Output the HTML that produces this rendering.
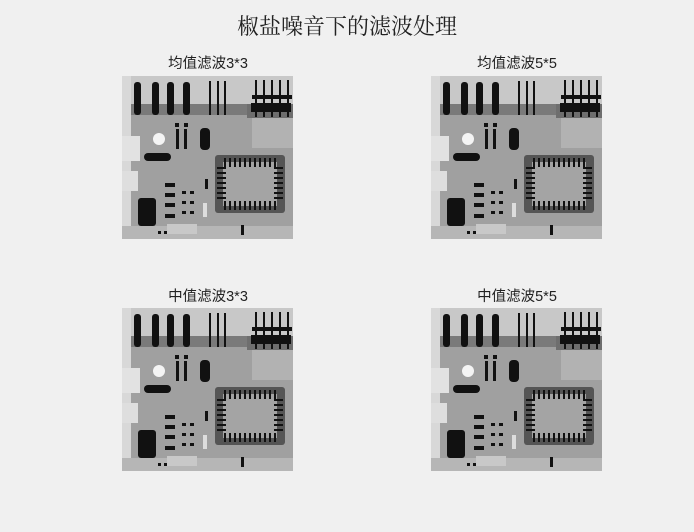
<!DOCTYPE html>
<html><head><meta charset="utf-8"><style>
html,body{margin:0;padding:0;background:#f0f0f0;}
#c{position:relative;width:694px;height:532px;overflow:hidden;background:#f0f0f0;}
.t{position:absolute;white-space:nowrap;color:#222;transform:translateX(-50%);}
.title{font-family:"Liberation Serif","Noto Serif CJK SC",serif;font-size:22px;top:14px;left:347px;line-height:26px;}
.sub{font-family:"Liberation Sans","Noto Sans CJK SC",sans-serif;font-size:14.5px;line-height:18px;}
svg{position:absolute;left:0;top:0;}
</style></head><body><div id="c">
<svg width="694" height="532" viewBox="0 0 694 532">
<defs>
<g id="pcb">
<rect x="0" y="0" width="171" height="163" fill="#a0a0a0"/>
<rect x="0" y="0" width="171" height="28" fill="#c8c8c8"/>
<rect x="0" y="28" width="125" height="11" fill="#7a7a7a"/>
<rect x="125" y="28" width="46" height="14" fill="#6e6e6e"/>
<rect x="0" y="0" width="9" height="163" fill="#d8d8d8"/>
<rect x="0" y="150" width="171" height="13" fill="#b6b6b6"/>
<rect x="130" y="42" width="41" height="30" fill="#b2b2b2"/>
<rect x="0" y="60" width="18" height="25" fill="#e2e2e2"/>
<rect x="0" y="95" width="16" height="20" fill="#dedede"/>
<g fill="#111">
<rect x="12" y="6" width="7" height="33" rx="3"/>
<rect x="30" y="6" width="7" height="33" rx="3"/>
<rect x="45" y="6" width="7" height="33" rx="3"/>
<rect x="61" y="6" width="7" height="33" rx="3"/>
<rect x="87" y="5" width="2" height="34"/>
<rect x="95" y="5" width="2" height="34"/>
<rect x="102" y="5" width="2" height="34"/>
<rect x="133" y="4" width="2" height="37"/>
<rect x="141" y="4" width="2" height="37"/>
<rect x="149" y="4" width="2" height="37"/>
<rect x="157" y="4" width="2" height="37"/>
<rect x="165" y="4" width="2" height="37"/>
<rect x="130" y="19" width="40" height="4"/>
<rect x="129" y="27" width="40" height="9"/>
<rect x="53" y="47" width="4" height="4"/>
<rect x="62" y="47" width="4" height="4"/>
<rect x="54" y="53" width="3" height="20"/>
<rect x="62" y="53" width="3" height="20"/>
<rect x="78" y="52" width="10" height="22" rx="4"/>
<rect x="22" y="77" width="27" height="8" rx="4"/>
<rect x="16" y="122" width="18" height="28" rx="3"/>
<rect x="43" y="107" width="10" height="4"/>
<rect x="43" y="117" width="10" height="4"/>
<rect x="43" y="127" width="10" height="4"/>
<rect x="43" y="138" width="10" height="4"/>
<rect x="60" y="115" width="4" height="3"/><rect x="68" y="115" width="4" height="3"/>
<rect x="60" y="125" width="4" height="3"/><rect x="68" y="125" width="4" height="3"/>
<rect x="60" y="135" width="4" height="3"/><rect x="68" y="135" width="4" height="3"/>
<rect x="83" y="103" width="3" height="10"/>
<rect x="119" y="149" width="3" height="10"/>
<rect x="36" y="155" width="3" height="3"/><rect x="42" y="155" width="3" height="3"/>
</g>
<circle cx="37" cy="63" r="6" fill="#f4f4f4"/>
<rect x="93" y="79" width="70" height="58" rx="3" fill="#555"/>
<rect x="101" y="86" width="54" height="44" fill="#a4a4a4"/>
<g stroke="#111" stroke-width="2">
<path d="M103 82v9M108 82v9M113 82v9M118 82v9M123 82v9M128 82v9M133 82v9M138 82v9M143 82v9M148 82v9M153 82v9"/>
<path d="M103 125v9M108 125v9M113 125v9M118 125v9M123 125v9M128 125v9M133 125v9M138 125v9M143 125v9M148 125v9M153 125v9"/>
<path d="M95 92h9M95 97h9M95 102h9M95 107h9M95 112h9M95 117h9M95 122h9"/>
<path d="M152 92h9M152 97h9M152 102h9M152 107h9M152 112h9M152 117h9M152 122h9"/>
</g>
<rect x="81" y="127" width="4" height="14" fill="#ddd"/>
<rect x="45" y="148" width="30" height="10" fill="#c8c8c8"/>
</g>
</defs>
<use href="#pcb" x="122" y="76"/>
<use href="#pcb" x="431" y="76"/>
<use href="#pcb" x="122" y="308"/>
<use href="#pcb" x="431" y="308"/>
</svg>
<div class="t title">椒盐噪音下的滤波处理</div>
<div class="t sub" style="left:208px;top:55px;">均值滤波3*3</div>
<div class="t sub" style="left:517px;top:55px;">均值滤波5*5</div>
<div class="t sub" style="left:208px;top:288px;">中值滤波3*3</div>
<div class="t sub" style="left:517px;top:288px;">中值滤波5*5</div>
</div></body></html>
